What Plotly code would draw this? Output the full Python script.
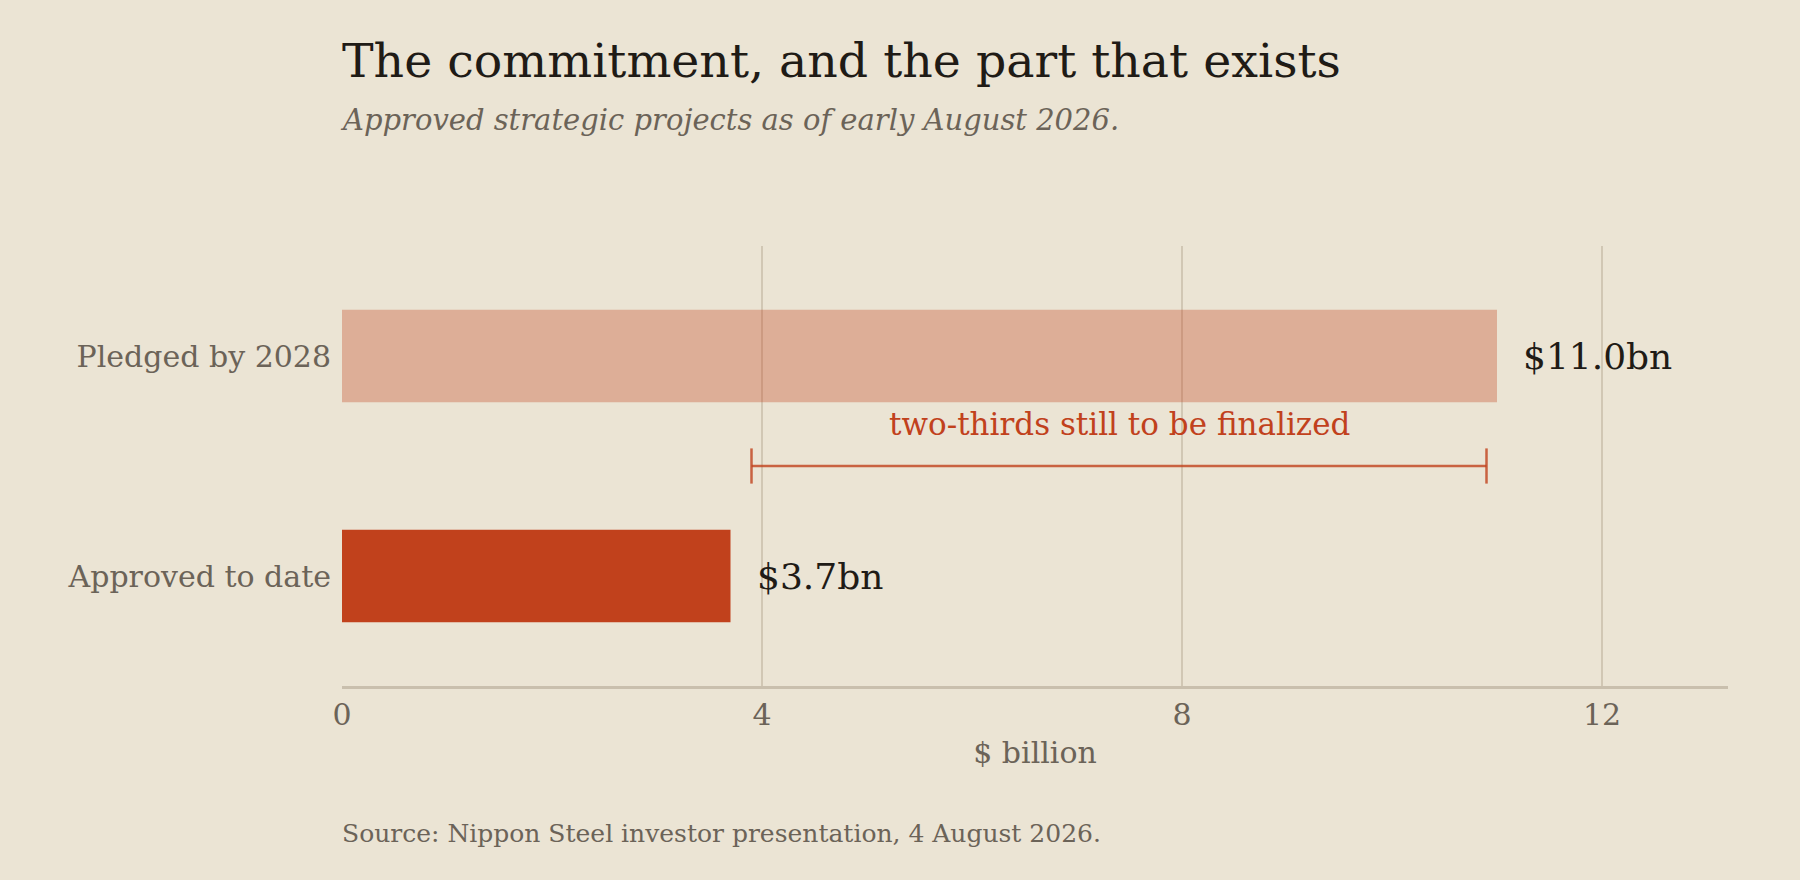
import plotly.graph_objects as go

categories = ["Approved to date", "Pledged by 2028"]
values = [3.7, 11.0]
value_labels = ["$3.7bn", "$11.0bn"]
bar_colors = ["rgba(193,65,28,1)", "rgba(193,65,28,0.33)"]
x_ticks = [0, 4, 8, 12]
gap_start = 3.9
gap_end = 10.9
gap_label = "two-thirds still to be finalized"

title = "The commitment, and the part that exists"
subtitle = "Approved strategic projects as of early August 2026."
source = "Source: Nippon Steel investor presentation, 4 August 2026."

BG = "#ebe4d4"
RED = "#c1411c"
GREY = "#6b6358"
INK = "#1f1b16"
FONT = "DejaVu Serif"

fig = go.Figure()
fig.add_trace(go.Bar(
    x=values, y=categories, orientation="h",
    marker=dict(color=bar_colors, line=dict(width=0)),
    width=0.42, hoverinfo="skip",
))

# bracket for the gap
fig.add_trace(go.Scatter(
    x=[gap_start, gap_end], y=[0.5, 0.5], mode="lines",
    line=dict(color="rgba(193,65,28,0.8)", width=2.5), hoverinfo="skip",
    yaxis="y2",
))
for xv in (gap_start, gap_end):
    fig.add_trace(go.Scatter(
        x=[xv, xv], y=[0.42, 0.58], mode="lines",
        line=dict(color="rgba(193,65,28,0.8)", width=2.5), hoverinfo="skip",
        yaxis="y2",
    ))

annotations = []
for c, v, lab in zip(categories, values, value_labels):
    annotations.append(dict(
        x=v, y=c, xref="x", yref="y", text=lab, showarrow=False,
        xanchor="left", yanchor="middle", xshift=24,
        font=dict(family=FONT, size=36, color=INK),
    ))
annotations.append(dict(
    x=(gap_start + gap_end) / 2, y=0.5, xref="x", yref="y2", text=gap_label,
    showarrow=False, xanchor="center", yanchor="bottom", yshift=22,
    font=dict(family=FONT, size=31, color=RED),
))
annotations.append(dict(
    x=0, y=1 + (246 - 120) / 440, xref="paper", yref="paper", text="<i>" + subtitle + "</i>",
    showarrow=False, xanchor="left", yanchor="middle", xshift=-4,
    font=dict(family=FONT, size=29, color=GREY),
))
annotations.append(dict(
    x=0, y=-(833 - 686) / 440, xref="paper", yref="paper", text=source,
    showarrow=False, xanchor="left", yanchor="middle", xshift=-2,
    font=dict(family=FONT, size=25, color=GREY),
))

fig.update_layout(
    width=1800, height=880,
    paper_bgcolor=BG, plot_bgcolor=BG,
    margin=dict(l=342, r=72, t=246, b=194),
    showlegend=False,
    title=dict(
        text=title, x=342 / 1800, xanchor="left", xref="container",
        y=1 - 60 / 880, yanchor="middle", yref="container",
        font=dict(family=FONT, size=47.4, color=INK),
    ),
    xaxis=dict(
        range=[0, 13.2], tickvals=x_ticks, ticktext=[str(t) for t in x_ticks],
        showgrid=True, gridcolor="rgba(160,145,120,0.35)", gridwidth=2,
        zeroline=False, showline=True, linecolor="#c9bfad", linewidth=3,
        ticks="", tickfont=dict(family=FONT, size=30, color=GREY),
        title=dict(text="$ billion", font=dict(family=FONT, size=30, color=GREY), standoff=11),
        layer="above traces",
    ),
    yaxis=dict(
        range=[-0.5, 1.5], showgrid=False, zeroline=False, showline=False,
        ticks="", ticklabelstandoff=10,
        tickfont=dict(family=FONT, size=30, color=GREY),
    ),
    yaxis2=dict(range=[-0.5, 1.5], overlaying="y", visible=False),
    annotations=annotations,
    bargap=0.58,
)

fig.write_html(
    "out.html",
    config={"displayModeBar": False},
    post_script="document.body.style.margin='0';document.body.style.background='#ebe4d4';",
)
